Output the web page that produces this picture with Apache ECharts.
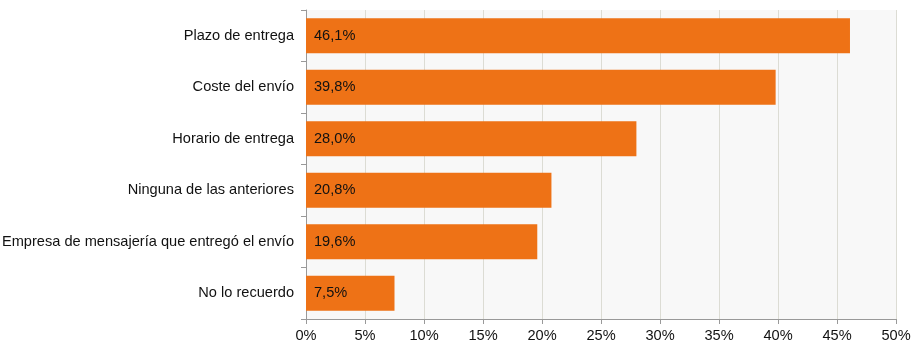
<!DOCTYPE html>
<html><head><meta charset="utf-8">
<script src="https://cdn.jsdelivr.net/npm/echarts@6/dist/echarts.min.js"></script>
<style>html,body{margin:0;padding:0;background:#fff}#c{width:916px;height:352px}</style>
</head><body><div id="c"></div>
<script>
const categories = ["Plazo de entrega","Coste del envío","Horario de entrega","Ninguna de las anteriores","Empresa de mensajería que entregó el envío","No lo recuerdo"];
const values = [46.1, 39.8, 28.0, 20.8, 19.6, 7.5];
const xTicks = [0,5,10,15,20,25,30,35,40,45,50];
const FS = 14.6;
const chart = echarts.init(document.getElementById('c'));
chart.setOption({
  animation:false,
  grid:{left:306,top:10,width:590,height:309,containLabel:false,outerBoundsMode:'none',backgroundColor:'#f8f8f8',show:true,borderWidth:0},
  xAxis:{type:'value',min:0,max:50,interval:5,
    axisLine:{show:true,lineStyle:{color:'#999'}},
    axisTick:{show:true,length:5,lineStyle:{color:'#999'}},
    splitLine:{show:true,lineStyle:{color:'#dcdcd4'}},
    axisLabel:{formatter:v=>v+'%',color:'#111',fontSize:FS,fontFamily:'Liberation Sans, Arial',margin:9}},
  yAxis:{type:'category',data:categories.slice().reverse(),inverse:false,
    axisLine:{show:true,lineStyle:{color:'#999'}},
    axisTick:{show:true,length:5,lineStyle:{color:'#999'}},
    axisLabel:{color:'#111',fontSize:FS,fontFamily:'Liberation Sans, Arial',margin:12}},
  series:[{type:'bar',data:values.slice().reverse(),barCategoryGap:'32%',
    itemStyle:{color:'#ee7216'},
    label:{show:true,position:'insideLeft',distance:8,color:'#111',fontSize:FS,fontFamily:'Liberation Sans, Arial',
      formatter:p=>p.value.toFixed(1).replace('.',',')+'%'}}]
});
</script></body></html>
